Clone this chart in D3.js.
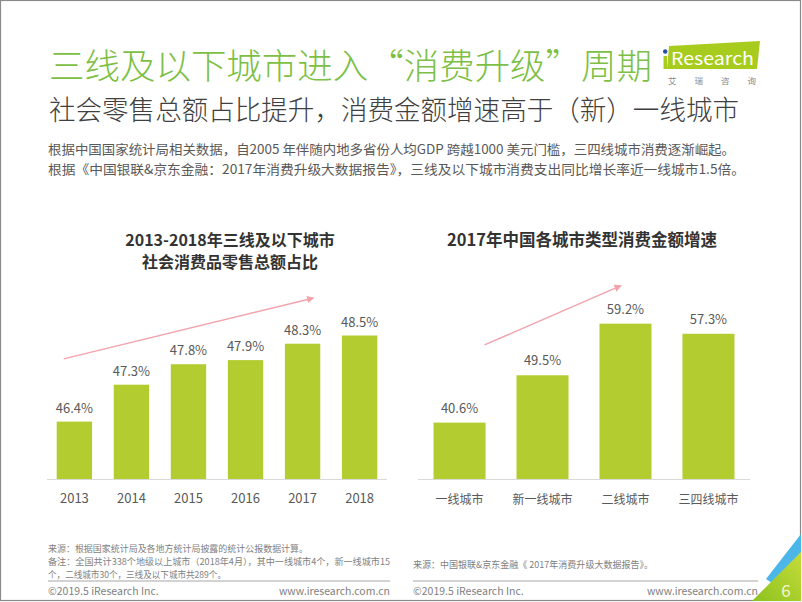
<!DOCTYPE html>
<html><head><meta charset="utf-8">
<script src="https://cdn.jsdelivr.net/npm/d3@7/dist/d3.min.js"></script>
<style>
html,body{margin:0;padding:0;background:#fff;}
svg{display:block;}
text{font-family:"Noto Sans CJK SC","Microsoft YaHei",sans-serif;}
</style></head>
<body>
<svg id="c" width="802" height="602"></svg>
<script>
// ---- data ----
const years = ["2013","2014","2015","2016","2017","2018"];
const shareValues = [46.4, 47.3, 47.8, 47.9, 48.3, 48.5];
const cityTypes = ["一线城市","新一线城市","二线城市","三四线城市"];
const growthValues = [40.6, 49.5, 59.2, 57.3];
const leftTitle = ["2013-2018年三线及以下城市","社会消费品零售总额占比"];
const rightTitle = "2017年中国各城市类型消费金额增速";
const mainTitle = "三线及以下城市进入“消费升级”周期";
const subTitle = "社会零售总额占比提升，消费金额增速高于（新）一线城市";
const bodyLines = [
  "根据中国国家统计局相关数据，自2005 年伴随内地多省份人均GDP 跨越1000 美元门槛，三四线城市消费逐渐崛起。",
  "根据《中国银联&京东金融：2017年消费升级大数据报告》，三线及以下城市消费支出同比增长率近一线城市1.5倍。"
];
const leftNotes = [
  "来源：根据国家统计局及各地方统计局披露的统计公报数据计算。",
  "备注：全国共计338个地级以上城市（2018年4月），其中一线城市4个，新一线城市15",
  "个，二线城市30个，三线及以下城市共289个。"
];
const rightNote = "来源：中国银联&京东金融《 2017年消费升级大数据报告》。";
const copyright = "©2019.5 iResearch Inc.";
const website = "www.iresearch.com.cn";
const pageNum = "6";

// ---- style ----
const GREEN_T = "#7dbf45", BAR = "#b3cd31", TXT = "#595959", ARROW = "#f2a3ad";

const svg = d3.select("#c");
const defs = svg.append("defs");
defs.append("marker").attr("id","ah").attr("viewBox","0 0 10 10").attr("refX",8).attr("refY",5)
  .attr("markerWidth",5).attr("markerHeight",5).attr("orient","auto")
  .append("path").attr("d","M0,0L10,5L0,10z").attr("fill",ARROW);
const g1 = defs.append("linearGradient").attr("id","cg").attr("x1","0").attr("y1","1").attr("x2","1").attr("y2","0");
g1.append("stop").attr("offset","0").attr("stop-color","#8cc21f");
g1.append("stop").attr("offset","1").attr("stop-color","#c6dc3a");

// frame
svg.append("rect").attr("x",0.5).attr("y",0.5).attr("width",800).attr("height",600)
  .attr("fill","none").attr("stroke","#8a8a8a").attr("stroke-width",1.2);

// titles
svg.append("text").attr("x",49).attr("y",79).attr("font-size",35).attr("font-weight",300)
  .attr("fill",GREEN_T).attr("textLength",603).attr("lengthAdjust","spacingAndGlyphs").text(mainTitle);
svg.append("text").attr("x",49).attr("y",120).attr("font-size",27.5).attr("font-weight",300)
  .attr("fill","#404040").attr("textLength",690).attr("lengthAdjust","spacingAndGlyphs").text(subTitle);
const bodyW = [687, 697];
bodyLines.forEach((t,i)=>{
  svg.append("text").attr("x",48).attr("y",154+i*20).attr("font-size",13).attr("fill",TXT)
    .attr("textLength",bodyW[i]).attr("lengthAdjust","spacingAndGlyphs").text(t);
});

// logo
const logo = svg.append("g");
logo.append("path").attr("d","M669,46 L760,41 L757,69 L667,69 Z").attr("fill","#a8cc1e");
logo.append("rect").attr("x",663.5).attr("y",56).attr("width",3.5).attr("height",13).attr("fill","#a8cc1e");
logo.append("circle").attr("cx",665.2).attr("cy",51.5).attr("r",2.2).attr("fill","#2a4f9e");
logo.append("text").attr("x",671).attr("y",65).attr("font-size",17).attr("fill","#fff")
  .attr("font-family","'Open Sans',sans-serif").attr("textLength",83).attr("lengthAdjust","spacingAndGlyphs").text("Research");
logo.append("text").attr("x",668).attr("y",84).attr("font-size",8.5).attr("fill","#8a8a8a")
  .attr("textLength",88).attr("lengthAdjust","spacing").text("艾瑞咨询");

// ---- left chart ----
const xL = d3.scaleBand().domain(years).range([47,387]).paddingInner(0.38).paddingOuter(0.17);
const yL = d3.scaleLinear().domain([45,50]).range([479,274]);
const L = svg.append("g");
leftTitle.forEach((t,i)=>{
  L.append("text").attr("x",230).attr("y",246+i*22).attr("text-anchor","middle")
    .attr("font-size",16).attr("font-weight",700).attr("fill","#333").text(t);
});
L.selectAll("rect.b").data(shareValues).join("rect").attr("class","b")
  .attr("x",(d,i)=>xL(years[i])).attr("width",xL.bandwidth())
  .attr("y",d=>yL(d)).attr("height",d=>yL(45)-yL(d)).attr("fill",BAR);
L.selectAll("text.v").data(shareValues).join("text").attr("class","v")
  .attr("x",(d,i)=>xL(years[i])+xL.bandwidth()/2).attr("y",d=>yL(d)-9)
  .attr("text-anchor","middle").attr("font-size",13).attr("fill",TXT).text(d=>d.toFixed(1)+"%");
const axL = L.append("g").attr("transform",`translate(0,${yL(45)})`)
  .call(d3.axisBottom(xL).tickSize(0).tickPadding(15));
axL.select(".domain").attr("stroke","#d9d9d9").attr("d","M47,0.5H387");
axL.selectAll("text").attr("font-size",13).attr("fill",TXT).attr("font-family","'Noto Sans CJK SC',sans-serif");
// trend arrow (annotation in data units)
L.append("line")
  .attr("x1",xL("2013")+7).attr("y1",yL(47.93))
  .attr("x2",xL("2017")+28).attr("y2",yL(49.41))
  .attr("stroke",ARROW).attr("stroke-width",1.5).attr("marker-end","url(#ah)");

// ---- right chart ----
const xR = d3.scaleBand().domain(cityTypes).range([418,750]).paddingInner(0.373).paddingOuter(0.187);
const yR = d3.scaleLinear().domain([30,70]).range([479,266.2]);
const R = svg.append("g");
R.append("text").attr("x",582).attr("y",246).attr("text-anchor","middle")
  .attr("font-size",16.5).attr("font-weight",700).attr("fill","#333").text(rightTitle);
R.selectAll("rect.b").data(growthValues).join("rect").attr("class","b")
  .attr("x",(d,i)=>xR(cityTypes[i])).attr("width",xR.bandwidth())
  .attr("y",d=>yR(d)).attr("height",d=>yR(30)-yR(d)).attr("fill",BAR);
R.selectAll("text.v").data(growthValues).join("text").attr("class","v")
  .attr("x",(d,i)=>xR(cityTypes[i])+xR.bandwidth()/2).attr("y",d=>yR(d)-10)
  .attr("text-anchor","middle").attr("font-size",13).attr("fill",TXT).text(d=>d.toFixed(1)+"%");
const axR = R.append("g").attr("transform",`translate(0,${yR(30)})`)
  .call(d3.axisBottom(xR).tickSize(0).tickPadding(16));
axR.select(".domain").attr("stroke","#d9d9d9").attr("d","M418,0.5H750");
axR.selectAll("text").attr("font-size",12).attr("fill",TXT).attr("font-family","'Noto Sans CJK SC',sans-serif");
R.append("line")
  .attr("x1",xR("一线城市")+51).attr("y1",yR(55.2))
  .attr("x2",xR("二线城市")+21).attr("y2",yR(66.3))
  .attr("stroke",ARROW).attr("stroke-width",1.5).attr("marker-end","url(#ah)");

// ---- footer ----
const noteW = [260, 342, 178];
leftNotes.forEach((t,i)=>{
  svg.append("text").attr("x",48).attr("y",552+i*13).attr("font-size",9).attr("fill","#7f7f7f")
    .attr("textLength",noteW[i]).attr("lengthAdjust","spacingAndGlyphs").text(t);
});
svg.append("text").attr("x",413).attr("y",568).attr("font-size",9.5).attr("fill","#7f7f7f")
  .attr("textLength",240).attr("lengthAdjust","spacingAndGlyphs").text(rightNote);
[[48,390],[413,758]].forEach(([a,b])=>{
  svg.append("line").attr("x1",a).attr("x2",b).attr("y1",581).attr("y2",581).attr("stroke","#a6a6a6").attr("stroke-width",1);
  svg.append("text").attr("x",a).attr("y",595).attr("font-size",10.5).attr("fill","#7f7f7f").text(copyright);
  svg.append("text").attr("x",b).attr("y",595).attr("text-anchor","end").attr("font-size",10.5).attr("fill","#7f7f7f").text(website);
});

// corner decoration
svg.append("path").attr("d","M801,534 L801,552 L775,585 L766,579 Z").attr("fill","#4db6e8");
svg.append("path").attr("d","M801,552 L801,601 L752,601 Z").attr("fill","url(#cg)");
svg.append("text").attr("x",786).attr("y",597).attr("text-anchor","middle").attr("font-size",17)
  .attr("fill","#f4f7d0").text(pageNum);
</script>
</body></html>
